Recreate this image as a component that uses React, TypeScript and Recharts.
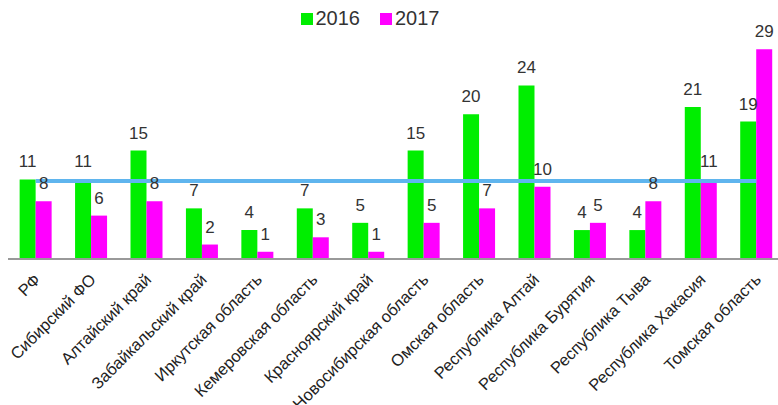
import { ComposedChart, Bar, Line, XAxis, YAxis, Legend, LabelList } from 'recharts';

const regions = [
  'РФ',
  'Сибирский ФО',
  'Алтайский край',
  'Забайкальский край',
  'Иркутская область',
  'Кемеровская область',
  'Красноярский край',
  'Новосибирская область',
  'Омская область',
  'Республика Алтай',
  'Республика Бурятия',
  'Республика Тыва',
  'Республика Хакасия',
  'Томская область',
];
const values2016 = [11, 11, 15, 7, 4, 7, 5, 15, 20, 24, 4, 4, 21, 19];
const values2017 = [8, 6, 8, 2, 1, 3, 1, 5, 7, 10, 5, 8, 11, 29];
const levelLine = [10.8, 10.8, 10.8, 10.8, 10.8, 10.8, 10.8, 10.8, 10.8, 10.8, 10.8, 10.8, 10.8, 10.8];

const data = regions.map((name, i) => ({
  name,
  y2016: values2016[i],
  y2017: values2017[i],
  level: levelLine[i],
}));

const GREEN = '#00ee00';
const MAGENTA = '#ff00ff';
const BLUE = '#5fb5ee';
const FONT = '"Liberation Sans", Arial, sans-serif';

const RegionTick = (props: any) => {
  const { x, y, payload } = props;
  return (
    <g transform={`translate(${x - 2},${y + 6}) rotate(-45)`}>
      <text x={0} y={0} dy={11} textAnchor="end" fill="#222" fontSize={16.5} fontFamily={FONT}>
        {payload.value}
      </text>
    </g>
  );
};

const LegendBox = () => (
  <div
    style={{
      display: 'flex',
      justifyContent: 'center',
      gap: 20,
      fontFamily: FONT,
      fontSize: 20,
      color: '#333',
      paddingRight: 38,
    }}
  >
    {[
      { label: '2016', color: GREEN },
      { label: '2017', color: MAGENTA },
    ].map((item) => (
      <div key={item.label} style={{ display: 'flex', alignItems: 'center' }}>
        <span style={{ width: 12, height: 12, background: item.color, display: 'inline-block', marginRight: 3 }} />
        <span>{item.label}</span>
      </div>
    ))}
  </div>
);

export default function App() {
  return (
    <div style={{ position: 'absolute', left: 0, top: 0, width: 778, height: 405, overflow: 'hidden', background: '#fff' }}>
      <ComposedChart
        width={784}
        height={405}
        data={data}
        margin={{ top: 19, right: 0, left: 8, bottom: 6 }}
        barCategoryGap="21%"
        barGap={0}
      >
        <XAxis
          dataKey="name"
          interval={0}
          tickLine={false}
          axisLine={{ stroke: '#999', strokeWidth: 2 }}
          height={140}
          tick={<RegionTick />}
        />
        <YAxis hide domain={[0, 30]} />
        <Legend
          verticalAlign="top"
          content={<LegendBox />}
          wrapperStyle={{ top: 7, left: 0, width: 778 }}
        />
        <Bar dataKey="y2016" name="2016" fill={GREEN} isAnimationActive={false}>
          <LabelList dataKey="y2016" position="top" offset={12} fill="#333" fontSize={17} fontFamily={FONT} />
        </Bar>
        <Bar dataKey="y2017" name="2017" fill={MAGENTA} isAnimationActive={false}>
          <LabelList dataKey="y2017" position="top" offset={12} fill="#333" fontSize={17} fontFamily={FONT} />
        </Bar>
        <Line
          dataKey="level"
          stroke={BLUE}
          strokeWidth={4}
          dot={false}
          activeDot={false}
          legendType="none"
          isAnimationActive={false}
        />
      </ComposedChart>
    </div>
  );
}
